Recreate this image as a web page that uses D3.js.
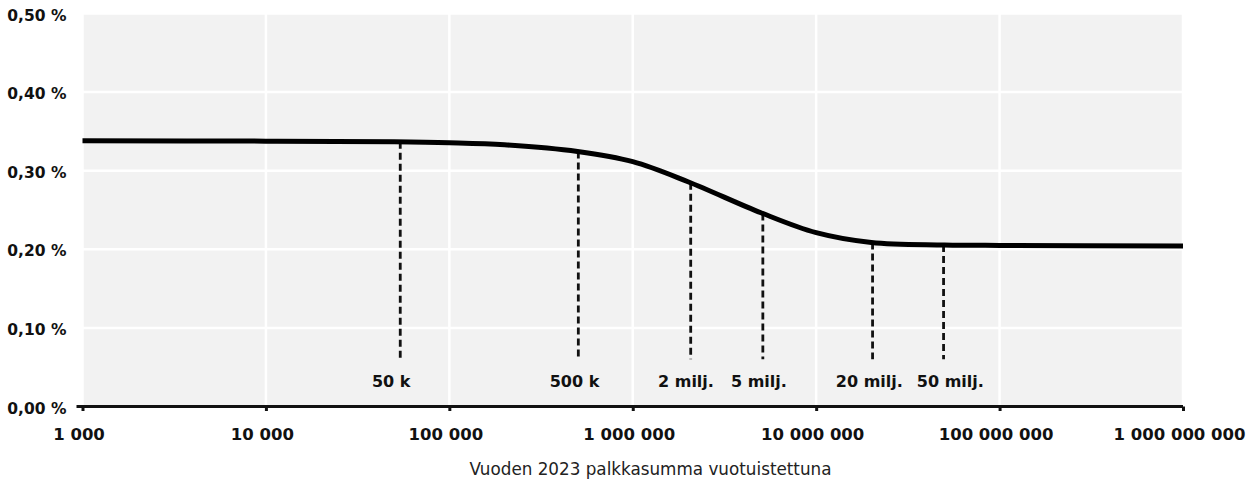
<!DOCTYPE html>
<html>
<head>
<meta charset="utf-8">
<script src="https://cdn.jsdelivr.net/npm/d3@7"></script>
<style>
  html, body { margin: 0; padding: 0; background: #ffffff; }
  svg { display: block; }
</style>
</head>
<body>
<svg id="chart" width="1250" height="479"></svg>
<script>
// ---- data ----
const curveX = [1e3, 1e4, 5e4, 1e5, 2e5, 5e5, 1e6, 2e6, 5e6, 1e7, 2e7, 5e7, 1e8, 1e9];
const curveY = [0.338, 0.3376, 0.3368, 0.3356, 0.333, 0.3245, 0.3115, 0.2860, 0.2465, 0.2212, 0.2087, 0.2056, 0.2049, 0.2042];
const markerX = [54000, 505000, 2070000, 5120000, 20300000, 49500000];
const markerLabelAt = [5e4, 5e5, 2e6, 5e6, 2e7, 5e7];
const markerLabels = ["50 k", "500 k", "2 milj.", "5 milj.", "20 milj.", "50 milj."];
const xTicks = [1e3, 1e4, 1e5, 1e6, 1e7, 1e8, 1e9];
const yTicks = [0, 0.1, 0.2, 0.3, 0.4, 0.5];
const xTitle = "Vuoden 2023 palkkasumma vuotuistettuna";

// ---- layout ----
const svg = d3.select("#chart");
const x = d3.scaleLog().domain([1e3, 1e9]).range([82.5, 1183]);
const y = d3.scaleLinear().domain([0, 0.5]).range([406.5, 13.5]);

const fi = d3.formatLocale({ decimal: ",", thousands: "\u00a0", grouping: [3], currency: ["", ""] });
const fmtX = fi.format(",d");
const fmtY = v => fi.format(".2f")(v) + " %";

const font = "'DejaVu Sans', sans-serif";

// plot background
svg.append("rect")
  .attr("x", x(1e3)).attr("y", y(0.5))
  .attr("width", x(1e9) - x(1e3)).attr("height", y(0) - y(0.5))
  .attr("fill", "#f2f2f2");

// gridlines
svg.append("g").selectAll("line").data(xTicks).join("line")
  .attr("x1", d => x(d)).attr("x2", d => x(d))
  .attr("y1", y(0.5)).attr("y2", y(0))
  .attr("stroke", "#ffffff").attr("stroke-width", 2.5);
svg.append("g").selectAll("line").data(yTicks.filter(d => d > 0)).join("line")
  .attr("x1", x(1e3)).attr("x2", x(1e9))
  .attr("y1", d => y(d)).attr("y2", d => y(d))
  .attr("stroke", "#ffffff").attr("stroke-width", 2.5);

const pts = curveX.map((v, i) => [v, curveY[i]]);
const line = d3.line().x(d => x(d[0])).y(d => y(d[1])).curve(d3.curveCatmullRom.alpha(0.5));

// draw the curve path first (hidden) to find marker tops on it
const curvePath = svg.append("path").datum(pts).attr("d", line).attr("fill", "none").attr("stroke", "none");
const pathNode = curvePath.node();
const totalLen = pathNode.getTotalLength();
function yOnCurve(px) {
  let lo = 0, hi = totalLen;
  for (let k = 0; k < 40; k++) {
    const mid = (lo + hi) / 2;
    if (pathNode.getPointAtLength(mid).x < px) lo = mid; else hi = mid;
  }
  return pathNode.getPointAtLength((lo + hi) / 2).y;
}

// dashed marker lines
svg.append("g").selectAll("line").data(markerX).join("line")
  .attr("x1", d => x(d)).attr("x2", d => x(d))
  .attr("y1", d => yOnCurve(x(d))).attr("y2", y(0.06))
  .attr("stroke", "#111111").attr("stroke-width", 2.8)
  .attr("stroke-dasharray", "7,4");

// marker labels
const labelNudge = [-3, -3, -2, -2, -2, 6];
svg.append("g").selectAll("text").data(markerLabelAt).join("text")
  .attr("x", (d, i) => x(d) + labelNudge[i]).attr("y", 386.5)
  .attr("text-anchor", "middle")
  .attr("font-family", font).attr("font-weight", "bold").attr("font-size", "16px")
  .attr("fill", "#111111")
  .text((d, i) => markerLabels[i]);

// visible curve
svg.append("path").datum(pts)
  .attr("d", line)
  .attr("fill", "none").attr("stroke", "#000000").attr("stroke-width", 5)
  .attr("stroke-linejoin", "round");

// x axis
const xAxis = d3.axisBottom(x).tickValues(xTicks).tickFormat(fmtX).tickSize(4.5).tickPadding(17);
const gx = svg.append("g").attr("transform", `translate(0,${y(0)})`).call(xAxis);
gx.select(".domain").remove();
gx.selectAll(".tick line").attr("stroke", "#111111").attr("stroke-width", 3);
gx.selectAll(".tick text")
  .attr("dx", -4)
  .attr("font-family", font).attr("font-weight", "bold").attr("font-size", "16.5px")
  .attr("fill", "#111111");
svg.append("line")
  .attr("x1", x(1e3) - 6).attr("x2", x(1e9))
  .attr("y1", y(0)).attr("y2", y(0))
  .attr("stroke", "#111111").attr("stroke-width", 3);

// y axis labels
const yAxis = d3.axisLeft(y).tickValues(yTicks).tickFormat(fmtY).tickSize(0).tickPadding(16);
const gy = svg.append("g").attr("transform", `translate(${x(1e3)},0)`).call(yAxis);
gy.select(".domain").remove();
gy.selectAll(".tick text")
  .attr("dy", "0.42em")
  .attr("font-family", font).attr("font-weight", "bold").attr("font-size", "15.5px")
  .attr("fill", "#111111");

// x title
svg.append("text")
  .attr("x", 650.5).attr("y", 475)
  .attr("text-anchor", "middle")
  .attr("font-family", font).attr("font-size", "16.8px")
  .attr("fill", "#222222")
  .text(xTitle);
</script>
</body>
</html>
